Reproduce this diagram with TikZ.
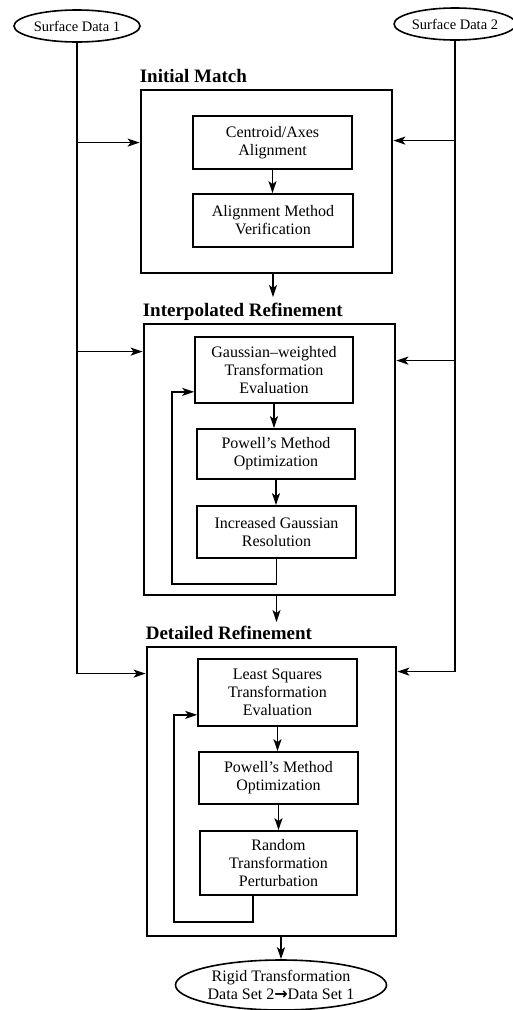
\documentclass[tikz,border=0pt]{standalone}
\usepackage{fontspec}
\setmainfont{Liberation Serif}
\newfontfamily\arrowfont{DejaVu Sans}
\usetikzlibrary{arrows.meta,shapes.geometric,positioning}

\tikzset{
  stagebox/.style={draw, line width=2.8pt},
  stepbox/.style={draw, line width=1.7pt, align=center, font=\fontsize{16}{18}\selectfont},
  datanode/.style={draw, ellipse, line width=1.6pt, inner sep=0pt, align=center},
  stagetitle/.style={anchor=base west, inner sep=0pt, font=\bfseries\fontsize{19}{21}\selectfont},
  flow/.style={line width=1.5pt}
}

\begin{document}
\begin{tikzpicture}[x=1pt, y=-1pt, >={Stealth[length=12pt,width=8pt,inset=3pt]}]
\useasboundingbox (0,0) rectangle (513,1010);

% input surfaces
\node[datanode, minimum width=126pt, minimum height=32pt, font=\fontsize{14.5}{16}\selectfont] (surf1) at (77,26) {Surface Data 1};
\node[datanode, minimum width=116pt, minimum height=32pt, font=\fontsize{14.5}{16}\selectfont] (surf2) at (455,24) {Surface Data 2};

% stage boxes
\node[stagebox, minimum width=251pt, minimum height=183pt] (initial) at (266.5,181.5) {};
\node[stagebox, minimum width=251pt, minimum height=271pt] (interp) at (269.5,459.5) {};
\node[stagebox, minimum width=249pt, minimum height=289pt] (detail) at (271.5,791.5) {};

% stage titles
\node[stagetitle] (initialtitle) at ([yshift=6pt]initial.north west) {Initial Match};
\node[stagetitle] (interptitle) at ([yshift=6pt]interp.north west) {Interpolated Refinement};
\node[stagetitle] (detailtitle) at ([yshift=6pt]detail.north west) {Detailed Refinement};

% steps
\node[stepbox, minimum width=159pt, minimum height=53pt] (centroid) at (272.5,142.5) {Centroid/Axes\\Alignment};
\node[stepbox, minimum width=160pt, minimum height=53pt] (verify) at (273,220.5) {Alignment Method\\Verification};
\node[stepbox, minimum width=158pt, minimum height=66pt] (gausseval) at (274,370) {Gaussian--weighted\\Transformation\\Evaluation};
\node[stepbox, minimum width=158pt, minimum height=50pt] (powellA) at (276,454) {Powell's Method\\Optimization};
\node[stepbox, minimum width=159pt, minimum height=52pt] (gaussres) at (276.5,532) {Increased Gaussian\\Resolution};
\node[stepbox, minimum width=159pt, minimum height=67pt] (lsqeval) at (277.5,692.5) {Least Squares\\Transformation\\Evaluation};
\node[stepbox, minimum width=159pt, minimum height=52pt] (powellB) at (278.5,778) {Powell's Method\\Optimization};
\node[stepbox, minimum width=157pt, minimum height=64pt] (perturb) at (278.5,863) {Random\\Transformation\\Perturbation};

% result
\node[datanode, minimum width=211pt, minimum height=50pt, font=\fontsize{16}{18}\selectfont] (rigid) at (281,985) {Rigid Transformation\\Data Set 2{\arrowfont\bfseries →}Data Set 1};

% arrows inside stages
\draw[->, flow] (centroid.south) -- (centroid.south |- verify.north);
\draw[->, flow] (gausseval.south) -- (gausseval.south |- powellA.north);
\draw[->, flow] (powellA.south) -- (powellA.south |- gaussres.north);
\draw[->, flow] (lsqeval.south) -- (lsqeval.south |- powellB.north);
\draw[->, flow] (powellB.south) -- (powellB.south |- perturb.north);

% feedback loops
\coordinate (loopA) at (172,584);
\coordinate (loopB) at (174,922);
\draw[->, flow] (gaussres.south) |- (loopA) |- ([yshift=12pt]gausseval.south west);
\draw[->, flow] ([xshift=54pt]perturb.south west) |- (loopB) |- ([yshift=12pt]lsqeval.south west);

% arrows between stages
\draw[->, flow, shorten >=6pt] (initial.south -| verify.south) -- (interptitle.north -| verify.south);
\draw[->, flow, shorten >=4pt] (interp.south -| gaussres.south) -- (detailtitle.north -| gaussres.south);
\draw[->, flow] (detail.south -| rigid.north) -- (rigid.north);

% Surface Data 1 feeds
\coordinate (leftA) at ([yshift=-54pt]initial.north west);
\coordinate (leftB) at ([yshift=-29pt]interp.north west);
\coordinate (leftC) at ([yshift=-28pt]detail.north west);
\draw[->, flow] (surf1.south) |- (leftC);
\draw[->, flow] (surf1.south |- leftA) -- (leftA);
\draw[->, flow] (surf1.south |- leftB) -- (leftB);

% Surface Data 2 feeds
\coordinate (rightA) at ([yshift=-52pt]initial.north east);
\coordinate (rightB) at ([yshift=-38pt]interp.north east);
\coordinate (rightC) at ([yshift=-26pt]detail.north east);
\draw[->, flow] (surf2.south) |- (rightC);
\draw[->, flow] (surf2.south |- rightA) -- (rightA);
\draw[->, flow] (surf2.south |- rightB) -- (rightB);

\end{tikzpicture}
\end{document}
